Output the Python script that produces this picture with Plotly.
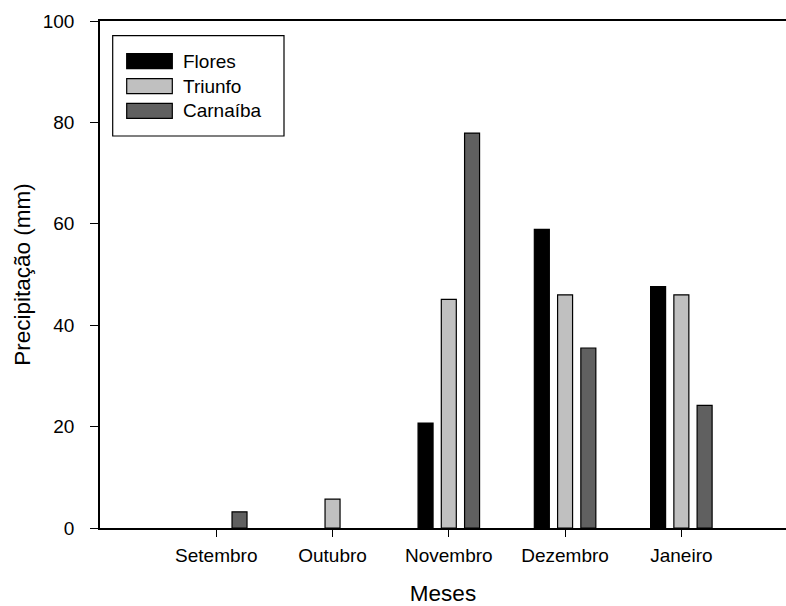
import plotly.graph_objects as go

months = ["Setembro", "Outubro", "Novembro", "Dezembro", "Janeiro"]
flores = [0, 0, 20.7, 58.9, 47.6]
triunfo = [0, 5.7, 45.1, 46.0, 46.0]
carnaiba = [3.2, 0, 77.9, 35.5, 24.2]
series_names = ["Flores", "Triunfo", "Carnaíba"]
series_colors = ["#000000", "#C0C0C0", "#606060"]
y_ticks = [0, 20, 40, 60, 80, 100]

FONT = "Liberation Sans, Arial, sans-serif"
fig = go.Figure()
x_idx = list(range(len(months)))
for name, vals, col in zip(series_names, [flores, triunfo, carnaiba], series_colors):
    fig.add_trace(go.Bar(
        x=x_idx, y=vals, name=name,
        marker=dict(color=col, line=dict(color="#000000",
                                         width=[1.2 if v > 0 else 0 for v in vals])),
        showlegend=False,
    ))

# legend drawn as shapes + text
W = 686.0
H = 507.0
def px_x(p):
    return (p - 100) / W
def px_y(p):
    return (528 - p) / H

shapes = [dict(type="rect", xref="paper", yref="paper",
               x0=px_x(112.7), x1=px_x(284), y0=px_y(136), y1=px_y(35.7),
               line=dict(color="#000000", width=1.2), fillcolor="rgba(0,0,0,0)")]
annotations = []
row_centers = [61.2, 86.2, 110.8]
for name, col, yc in zip(series_names, series_colors, row_centers):
    shapes.append(dict(type="rect", xref="paper", yref="paper",
                       x0=px_x(126.7), x1=px_x(172.3), y0=px_y(yc + 7.5), y1=px_y(yc - 7.5),
                       line=dict(color="#000000", width=1.2), fillcolor=col))
    annotations.append(dict(xref="paper", yref="paper", x=px_x(181), y=px_y(yc),
                            text=name, showarrow=False, xanchor="left", yanchor="middle",
                            font=dict(family=FONT, size=19, color="#000000")))

fig.update_layout(
    width=786, height=606,
    margin=dict(l=100, r=0, t=21, b=78, pad=0),
    paper_bgcolor="white", plot_bgcolor="white",
    barmode="group", bargap=0.4, bargroupgap=0.355,
    font=dict(family=FONT, size=19, color="#000000"),
    shapes=shapes, annotations=annotations,
    showlegend=False,
)
fig.update_xaxes(
    range=[-1, 4.9], tickmode="array", tickvals=x_idx, ticktext=months,
    showgrid=False, zeroline=False, showline=True, linecolor="#000000", linewidth=1.5,
    mirror=True, ticks="outside", ticklen=7, tickwidth=1.2, tickcolor="#000000",
    ticklabelstandoff=2, automargin=False,
    title=dict(text="Meses", font=dict(size=22.5), standoff=32),
)
fig.update_yaxes(
    range=[0, 100], tickvals=y_ticks,
    showgrid=False, zeroline=False, showline=True, linecolor="#000000", linewidth=1.5,
    ticks="outside", ticklen=8, tickwidth=1.2, tickcolor="#000000",
    ticklabelstandoff=12, automargin=False,
    title=dict(text="Precipitação (mm)", font=dict(size=22.5), standoff=6),
)
fig.write_html("out.html", config={"displayModeBar": False},
               post_script="document.body.style.margin='0';document.body.style.overflow='hidden';")
